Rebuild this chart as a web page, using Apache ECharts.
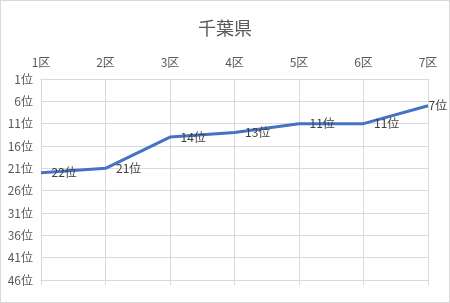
<!DOCTYPE html>
<html>
<head>
<meta charset="utf-8">
<script src="https://cdn.jsdelivr.net/npm/echarts@6/dist/echarts.min.js"></script>
<style>
  html, body { margin: 0; padding: 0; background: #fff; }
  #chart { width: 450px; height: 303px; box-sizing: border-box; border: 1px solid #d9d9d9; }
</style>
</head>
<body>
<div id="chart"></div>
<script>
// 区ごとの順位
const districts = ['1区', '2区', '3区', '4区', '5区', '6区', '7区'];
const ranks = [22, 21, 14, 13, 11, 11, 7];

const chart = echarts.init(document.getElementById('chart'));
const font = '"Noto Sans CJK JP", "Noto Sans", sans-serif';

// 最後のラベルは枠に収まるように点のすぐ右へ
const points = ranks.map((v, i) => i === ranks.length - 1
  ? { value: v, label: { distance: 0 } }
  : v);

chart.setOption({
  animation: false,
  title: {
    text: '千葉県',
    left: 'center',
    top: 13,
    textStyle: { fontFamily: font, fontSize: 18, fontWeight: 'normal', color: '#595959' }
  },
  grid: { left: 40, right: 21, top: 78, bottom: 22 },
  xAxis: [{
    type: 'category',
    position: 'top',
    boundaryGap: false,
    data: districts,
    axisLine: { lineStyle: { color: '#d9d9d9' } },
    axisTick: { show: false },
    axisLabel: { fontFamily: font, fontSize: 12, color: '#595959', margin: 11 },
    splitLine: { show: true, lineStyle: { color: '#d9d9d9' } }
  }, {
    // 下端の目盛りだけ
    type: 'category',
    position: 'bottom',
    boundaryGap: false,
    data: districts,
    axisLine: { lineStyle: { color: '#d9d9d9' } },
    axisTick: { show: true, length: 5, lineStyle: { color: '#d9d9d9' } },
    axisLabel: { show: false }
  }],
  yAxis: {
    type: 'value',
    inverse: true,
    min: 1,
    max: 46,
    interval: 5,
    axisLine: { show: false },
    axisTick: { show: false },
    axisLabel: {
      fontFamily: font, fontSize: 12, color: '#595959', margin: 8,
      formatter: v => v + '位'
    },
    splitLine: { lineStyle: { color: '#d9d9d9' } }
  },
  series: [{
    type: 'line',
    data: points,
    symbol: 'circle',
    symbolSize: 1,
    showSymbol: true,
    itemStyle: { color: 'rgba(68,114,196,0)', borderWidth: 0 },
    lineStyle: { color: '#4472C4', width: 3 },
    label: {
      show: true,
      position: 'right',
      distance: 10,
      fontFamily: font,
      fontSize: 12,
      color: '#404040',
      formatter: p => p.value + '位'
    },
    labelLayout: { hideOverlap: false }
  }]
});
</script>
</body>
</html>
